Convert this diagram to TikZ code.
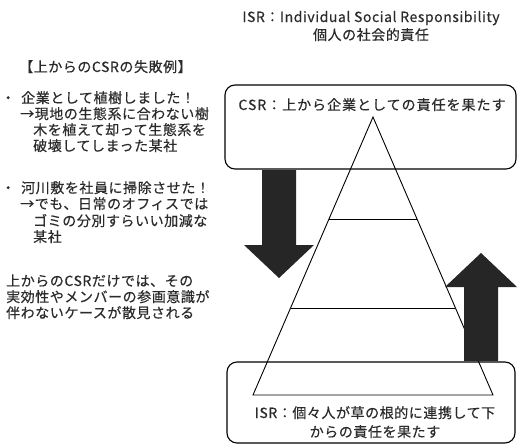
\documentclass[tikz,border=0pt]{standalone}
\usepackage{fontspec}
\usetikzlibrary{calc}
\setmainfont[LetterSpace=4,FakeBold=0.4]{Noto Sans CJK JP}
\definecolor{arrowdark}{HTML}{262626}
\definecolor{inkgray}{HTML}{2B2B2B}
\begin{document}
\begin{tikzpicture}[x=1pt,y=-1pt,
  txt/.style={inner sep=0pt, text=inkgray, font=\fontsize{14}{16}\selectfont},
  lft/.style={txt, anchor=base west},
  ctr/.style={txt, anchor=base},
  rbox/.style={draw=black, line width=1.1pt, rounded corners=10pt},
  pyr/.style={draw=black, line width=0.9pt},
  bigarrow/.style={fill=arrowdark, draw=none}]
\useasboundingbox (0,0) rectangle (517,447);
% title
\node[ctr] (title1) at (371,22) {ISR：Individual Social Responsibility};
\node[ctr] (title2) at (371,40) {個人の社会的責任};
% left texts
\node[lft] (head) at (19,72) {【上からのCSRの失敗例】};
\node[lft] (a1) at (1,103) {\makebox[20pt][l]{・}企業として植樹しました！};
\node[lft] (a2) at (20,119) {→現地の生態系に合わない樹};
\node[lft] (a3) at (33,135) {木を植えて却って生態系を};
\node[lft] (a4) at (33,151) {破壊してしまった某社};
\node[lft] (b1) at (1,193) {\makebox[20pt][l]{・}河川敷を社員に掃除させた！};
\node[lft] (b2) at (20,209) {→でも、日常のオフィスでは};
\node[lft] (b3) at (33,226) {ゴミの分別すらいい加減な};
\node[lft] (b4) at (33,242) {某社};
\node[lft] (c1) at (6,286) {上からのCSRだけでは、その};
\node[lft] (c2) at (6,302) {実効性やメンバーの参画意識が};
\node[lft] (c3) at (6,318) {伴わないケースが散見される};
% pyramid
\coordinate (apex) at (373,117);
\coordinate (bl) at (253,395);
\coordinate (br) at (493,395);
\draw[pyr] (apex) -- (bl) -- (br) -- cycle;
\draw[pyr] ($(apex)!0.367!(bl)$) -- ($(apex)!0.367!(br)$);
\draw[pyr] ($(apex)!0.687!(bl)$) -- ($(apex)!0.687!(br)$);
% boxes
\draw[rbox] (225,85) rectangle (516,169);
\node[ctr] (csr) at (372,110) {\addfontfeature{LetterSpace=7}CSR：上から企業としての責任を果たす};
\draw[rbox] (227,362) rectangle (515,443);
\node[ctr] (isr1) at (375,418) {ISR：個々人が草の根的に連携して下};
\node[ctr] (isr2) at (375,437) {からの責任を果たす};
% arrows
\fill[bigarrow] (262,170) -- (296,170) -- (296,245) -- (314,245) -- (279,278) -- (244,245) -- (262,245) -- cycle;
\fill[bigarrow] (464,361) -- (498,361) -- (498,287) -- (517,287) -- (481,253) -- (445,287) -- (464,287) -- cycle;
\end{tikzpicture}
\end{document}
